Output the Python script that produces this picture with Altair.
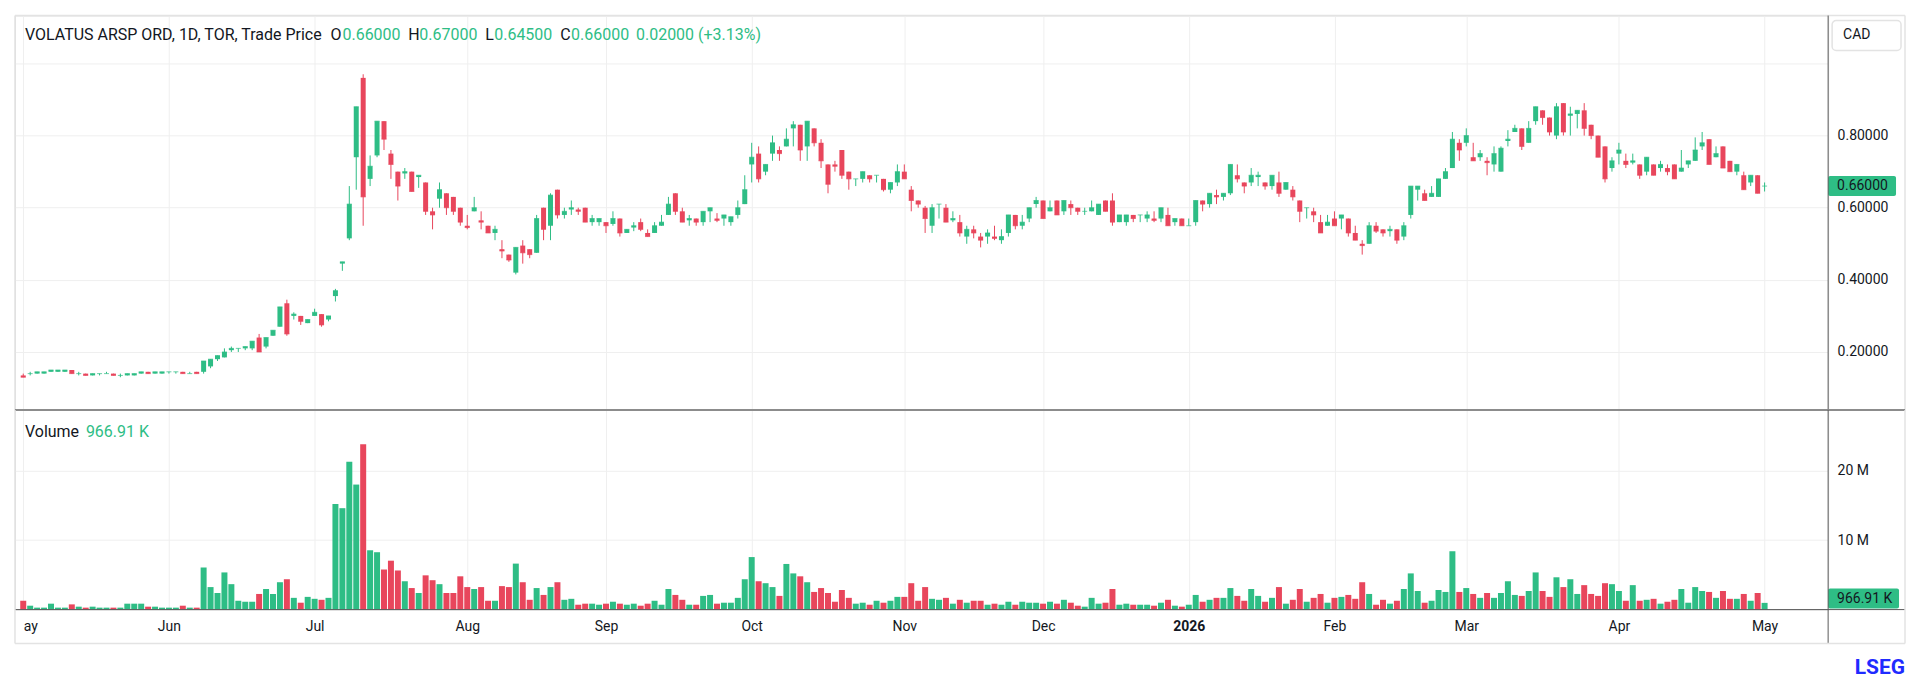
import altair as alt
import pandas as pd

# ---------------- data ----------------
opens = [0.135, 0.14, 0.14, 0.14, 0.145, 0.145, 0.145, 0.15, 0.14, 0.14,
         0.135, 0.14, 0.14, 0.14, 0.135, 0.135, 0.135, 0.14, 0.145, 0.14,
         0.14, 0.145, 0.145, 0.145, 0.14, 0.145, 0.145, 0.16, 0.18, 0.185,
         0.205, 0.21, 0.21, 0.21, 0.24, 0.215, 0.245, 0.27, 0.335, 0.30,
         0.30, 0.28, 0.30, 0.305, 0.29, 0.355, 0.445, 0.515, 0.74, 0.96,
         0.68, 0.745, 0.84, 0.75, 0.70, 0.695, 0.70, 0.685, 0.67, 0.59,
         0.625, 0.64, 0.63, 0.60, 0.55, 0.59, 0.565, 0.55, 0.53, 0.485,
         0.47, 0.42, 0.495, 0.485, 0.475, 0.60, 0.55, 0.65, 0.58, 0.595,
         0.595, 0.60, 0.56, 0.56, 0.56, 0.555, 0.57, 0.53, 0.545, 0.56,
         0.53, 0.53, 0.55, 0.58, 0.64, 0.59, 0.565, 0.57, 0.56, 0.59,
         0.57, 0.57, 0.56, 0.58, 0.61, 0.72, 0.75, 0.70, 0.75, 0.76,
         0.77, 0.82, 0.83, 0.77, 0.82, 0.78, 0.72, 0.72, 0.76, 0.70,
         0.68, 0.68, 0.69, 0.69, 0.68, 0.65, 0.67, 0.70, 0.65, 0.62,
         0.60, 0.55, 0.61, 0.60, 0.565, 0.56, 0.52, 0.54, 0.52, 0.52,
         0.52, 0.51, 0.53, 0.58, 0.55, 0.57, 0.61, 0.62, 0.59, 0.62,
         0.59, 0.61, 0.60, 0.59, 0.59, 0.58, 0.62, 0.62, 0.56, 0.56,
         0.58, 0.58, 0.57, 0.57, 0.57, 0.58, 0.56, 0.57, 0.55, 0.56,
         0.62, 0.61, 0.635, 0.63, 0.64, 0.69, 0.67, 0.67, 0.685, 0.67,
         0.66, 0.67, 0.65, 0.65, 0.62, 0.60, 0.59, 0.56, 0.55, 0.57,
         0.57, 0.57, 0.53, 0.50, 0.50, 0.55, 0.54, 0.535, 0.54, 0.52,
         0.58, 0.65, 0.64, 0.63, 0.63, 0.68, 0.71, 0.78, 0.78, 0.74,
         0.74, 0.73, 0.72, 0.70, 0.785, 0.81, 0.82, 0.78, 0.84, 0.87,
         0.85, 0.80, 0.89, 0.855, 0.86, 0.87, 0.83, 0.80, 0.77, 0.71,
         0.75, 0.73, 0.725, 0.72, 0.70, 0.72, 0.71, 0.71, 0.72, 0.70,
         0.72, 0.73, 0.77, 0.79, 0.74, 0.77, 0.73, 0.70, 0.69, 0.67,
         0.69, 0.66]
highs = [0.14, 0.145, 0.145, 0.145, 0.15, 0.15, 0.15, 0.15, 0.145, 0.14,
         0.14, 0.14, 0.145, 0.14, 0.14, 0.14, 0.14, 0.145, 0.145, 0.145,
         0.145, 0.145, 0.145, 0.145, 0.145, 0.145, 0.175, 0.18, 0.19, 0.21,
         0.215, 0.21, 0.215, 0.23, 0.25, 0.24, 0.26, 0.325, 0.345, 0.31,
         0.30, 0.29, 0.32, 0.305, 0.30, 0.375, 0.45, 0.66, 0.88, 0.97,
         0.745, 0.84, 0.84, 0.76, 0.70, 0.71, 0.70, 0.69, 0.67, 0.60,
         0.67, 0.64, 0.63, 0.60, 0.58, 0.63, 0.59, 0.55, 0.55, 0.51,
         0.47, 0.49, 0.51, 0.485, 0.58, 0.60, 0.64, 0.65, 0.60, 0.62,
         0.60, 0.60, 0.58, 0.57, 0.56, 0.59, 0.57, 0.54, 0.56, 0.57,
         0.54, 0.56, 0.58, 0.63, 0.64, 0.60, 0.58, 0.57, 0.59, 0.60,
         0.585, 0.58, 0.575, 0.62, 0.69, 0.78, 0.77, 0.72, 0.80, 0.77,
         0.82, 0.84, 0.83, 0.84, 0.82, 0.79, 0.72, 0.73, 0.76, 0.70,
         0.68, 0.70, 0.69, 0.69, 0.68, 0.67, 0.72, 0.72, 0.66, 0.62,
         0.605, 0.61, 0.61, 0.61, 0.59, 0.58, 0.55, 0.55, 0.53, 0.54,
         0.55, 0.54, 0.58, 0.58, 0.58, 0.60, 0.63, 0.62, 0.62, 0.62,
         0.62, 0.62, 0.60, 0.60, 0.62, 0.61, 0.62, 0.64, 0.58, 0.58,
         0.58, 0.58, 0.59, 0.59, 0.60, 0.60, 0.57, 0.57, 0.57, 0.62,
         0.62, 0.64, 0.65, 0.64, 0.72, 0.72, 0.67, 0.71, 0.70, 0.67,
         0.69, 0.70, 0.67, 0.66, 0.62, 0.60, 0.60, 0.58, 0.58, 0.59,
         0.58, 0.57, 0.55, 0.51, 0.56, 0.56, 0.54, 0.55, 0.54, 0.56,
         0.66, 0.66, 0.65, 0.66, 0.68, 0.71, 0.81, 0.79, 0.82, 0.78,
         0.76, 0.74, 0.77, 0.77, 0.815, 0.83, 0.82, 0.84, 0.88, 0.87,
         0.85, 0.89, 0.89, 0.88, 0.87, 0.89, 0.83, 0.80, 0.77, 0.74,
         0.78, 0.75, 0.75, 0.72, 0.74, 0.72, 0.73, 0.72, 0.72, 0.76,
         0.73, 0.795, 0.81, 0.79, 0.77, 0.77, 0.73, 0.72, 0.70, 0.69,
         0.69, 0.67]
lows = [0.13, 0.135, 0.14, 0.14, 0.145, 0.145, 0.145, 0.14, 0.135, 0.135,
        0.135, 0.135, 0.14, 0.135, 0.13, 0.135, 0.135, 0.14, 0.14, 0.14,
        0.14, 0.14, 0.14, 0.14, 0.14, 0.14, 0.14, 0.155, 0.175, 0.185,
        0.20, 0.20, 0.205, 0.205, 0.20, 0.21, 0.245, 0.27, 0.245, 0.29,
        0.275, 0.28, 0.30, 0.27, 0.285, 0.34, 0.425, 0.51, 0.65, 0.55,
        0.66, 0.74, 0.76, 0.68, 0.62, 0.68, 0.645, 0.655, 0.58, 0.54,
        0.60, 0.58, 0.58, 0.55, 0.54, 0.59, 0.54, 0.53, 0.51, 0.46,
        0.45, 0.415, 0.445, 0.46, 0.475, 0.51, 0.51, 0.57, 0.57, 0.58,
        0.58, 0.56, 0.55, 0.55, 0.53, 0.55, 0.52, 0.53, 0.535, 0.535,
        0.52, 0.53, 0.55, 0.58, 0.58, 0.56, 0.55, 0.55, 0.55, 0.56,
        0.56, 0.55, 0.55, 0.57, 0.61, 0.67, 0.67, 0.69, 0.73, 0.73,
        0.77, 0.77, 0.73, 0.73, 0.77, 0.71, 0.64, 0.70, 0.68, 0.65,
        0.66, 0.67, 0.67, 0.67, 0.645, 0.64, 0.66, 0.68, 0.59, 0.60,
        0.53, 0.53, 0.57, 0.56, 0.56, 0.52, 0.50, 0.515, 0.49, 0.50,
        0.51, 0.50, 0.52, 0.54, 0.54, 0.56, 0.60, 0.57, 0.59, 0.58,
        0.58, 0.58, 0.58, 0.58, 0.59, 0.58, 0.59, 0.55, 0.56, 0.55,
        0.56, 0.56, 0.56, 0.56, 0.56, 0.55, 0.55, 0.55, 0.55, 0.55,
        0.59, 0.60, 0.61, 0.62, 0.635, 0.67, 0.64, 0.66, 0.66, 0.65,
        0.65, 0.63, 0.65, 0.62, 0.56, 0.57, 0.56, 0.53, 0.55, 0.55,
        0.54, 0.52, 0.51, 0.47, 0.50, 0.53, 0.52, 0.52, 0.50, 0.51,
        0.57, 0.62, 0.62, 0.63, 0.63, 0.68, 0.71, 0.73, 0.77, 0.73,
        0.73, 0.69, 0.70, 0.70, 0.77, 0.81, 0.76, 0.78, 0.83, 0.83,
        0.80, 0.79, 0.80, 0.80, 0.82, 0.80, 0.79, 0.74, 0.67, 0.70,
        0.72, 0.71, 0.72, 0.68, 0.69, 0.69, 0.70, 0.69, 0.68, 0.70,
        0.71, 0.73, 0.76, 0.72, 0.74, 0.71, 0.70, 0.69, 0.65, 0.66,
        0.64, 0.645]
closes = [0.13, 0.14, 0.145, 0.145, 0.15, 0.15, 0.15, 0.14, 0.14, 0.135,
          0.14, 0.14, 0.14, 0.135, 0.135, 0.14, 0.14, 0.145, 0.14, 0.145,
          0.145, 0.145, 0.145, 0.14, 0.14, 0.14, 0.175, 0.18, 0.19, 0.20,
          0.21, 0.21, 0.215, 0.23, 0.20, 0.24, 0.26, 0.325, 0.25, 0.305,
          0.285, 0.29, 0.31, 0.275, 0.30, 0.37, 0.45, 0.61, 0.88, 0.63,
          0.715, 0.84, 0.79, 0.72, 0.66, 0.70, 0.645, 0.69, 0.59, 0.58,
          0.65, 0.60, 0.59, 0.56, 0.545, 0.60, 0.56, 0.53, 0.54, 0.48,
          0.455, 0.49, 0.475, 0.47, 0.57, 0.54, 0.635, 0.58, 0.59, 0.60,
          0.59, 0.56, 0.57, 0.57, 0.55, 0.57, 0.53, 0.54, 0.55, 0.54,
          0.52, 0.55, 0.56, 0.61, 0.59, 0.56, 0.57, 0.56, 0.59, 0.60,
          0.565, 0.58, 0.575, 0.60, 0.65, 0.74, 0.68, 0.72, 0.78, 0.75,
          0.79, 0.83, 0.76, 0.84, 0.78, 0.73, 0.665, 0.715, 0.69, 0.68,
          0.68, 0.70, 0.68, 0.69, 0.65, 0.67, 0.70, 0.68, 0.62, 0.61,
          0.57, 0.60, 0.61, 0.56, 0.57, 0.53, 0.54, 0.53, 0.51, 0.53,
          0.515, 0.52, 0.58, 0.55, 0.56, 0.60, 0.62, 0.57, 0.60, 0.58,
          0.62, 0.60, 0.59, 0.59, 0.60, 0.61, 0.59, 0.56, 0.58, 0.58,
          0.57, 0.58, 0.58, 0.565, 0.60, 0.55, 0.57, 0.55, 0.55, 0.62,
          0.61, 0.64, 0.63, 0.64, 0.72, 0.68, 0.66, 0.69, 0.69, 0.66,
          0.69, 0.64, 0.67, 0.63, 0.59, 0.60, 0.58, 0.53, 0.56, 0.55,
          0.58, 0.53, 0.51, 0.495, 0.55, 0.535, 0.53, 0.54, 0.51, 0.55,
          0.66, 0.66, 0.62, 0.64, 0.68, 0.70, 0.79, 0.76, 0.80, 0.73,
          0.75, 0.725, 0.75, 0.765, 0.79, 0.82, 0.77, 0.82, 0.88, 0.85,
          0.81, 0.88, 0.81, 0.86, 0.87, 0.82, 0.80, 0.74, 0.68, 0.73,
          0.76, 0.72, 0.73, 0.69, 0.74, 0.69, 0.72, 0.70, 0.68, 0.71,
          0.73, 0.76, 0.78, 0.72, 0.75, 0.71, 0.70, 0.72, 0.65, 0.69,
          0.64, 0.66]
volumes_m = [1.27, 0.56, 0.28, 0.28, 0.85, 0.28, 0.28, 0.75, 0.42, 0.28,
             0.42, 0.28, 0.28, 0.28, 0.28, 0.85, 0.85, 0.85, 0.42, 0.42,
             0.28, 0.28, 0.28, 0.56, 0.28, 0.28, 6.06, 3.24, 2.39, 5.35,
             3.66, 1.27, 1.13, 1.13, 2.25, 2.96, 2.25, 3.94, 4.37, 1.69,
             0.99, 1.83, 1.55, 1.41, 1.69, 15.2, 14.6, 21.3, 18.0, 23.8,
             8.54, 8.26, 5.77, 7.04, 5.63, 4.08, 3.10, 2.39, 4.93, 4.23,
             3.66, 2.39, 2.39, 4.79, 3.24, 2.96, 3.24, 1.27, 1.27, 3.38,
             3.24, 6.62, 3.94, 1.41, 3.10, 2.11, 3.24, 3.94, 1.41, 1.55,
             0.70, 0.85, 0.85, 0.70, 0.85, 1.13, 0.85, 0.70, 0.85, 0.56,
             0.85, 1.27, 0.70, 2.96, 2.11, 1.41, 0.70, 0.70, 1.97, 2.11,
             0.85, 0.99, 0.99, 1.69, 4.37, 7.56, 4.08, 3.80, 3.24, 1.97,
             6.57, 5.21, 4.79, 3.94, 2.54, 3.10, 2.39, 1.13, 2.82, 1.69,
             0.85, 0.99, 0.70, 1.27, 0.99, 1.27, 1.83, 1.83, 3.80, 1.27,
             3.24, 1.55, 1.41, 1.69, 0.85, 1.41, 0.99, 1.27, 1.27, 0.70,
             0.85, 0.70, 1.13, 0.70, 1.13, 0.99, 0.99, 0.85, 1.13, 0.85,
             1.41, 0.99, 0.56, 0.42, 1.69, 0.85, 0.99, 2.96, 0.70, 0.85,
             0.70, 0.70, 0.70, 0.56, 0.99, 1.41, 0.56, 0.42, 0.70, 2.11,
             1.13, 1.41, 1.69, 1.69, 3.10, 1.97, 1.27, 2.96, 1.97, 1.13,
             1.69, 3.24, 0.85, 1.41, 2.96, 1.13, 1.69, 2.25, 0.99, 1.69,
             1.83, 2.11, 1.55, 3.94, 2.25, 0.70, 1.41, 0.85, 1.27, 2.96,
             5.21, 2.68, 0.99, 1.27, 2.82, 2.54, 8.40, 2.54, 3.10, 2.25,
             1.69, 2.39, 1.69, 2.39, 4.08, 2.11, 1.97, 2.68, 5.35, 2.68,
             1.83, 4.65, 3.24, 4.37, 2.25, 3.52, 2.25, 1.97, 3.80, 3.66,
             2.68, 1.27, 3.52, 1.27, 1.41, 1.55, 0.85, 1.13, 1.41, 2.96,
             0.99, 3.24, 2.68, 2.54, 1.69, 2.68, 1.55, 1.55, 2.25, 1.27,
             2.39, 0.96691]

# time-axis labels: first trading day of each month (trading-day index)
month_labels = ["ay", "Jun", "Jul", "Aug", "Sep", "Oct", "Nov", "Dec",
                "2026", "Feb", "Mar", "Apr", "May"]
month_starts = [0, 21, 42, 64, 84, 105, 127, 147, 168, 189, 208, 230, 251]
price_ticks = [0.2, 0.4, 0.6, 0.8, 1.0]
volume_ticks = [10, 20]

# ---------------- styling ----------------
GREEN = "#2EBD85"
RED = "#E8465C"
TEXT = "#131722"
GRID = "#EFEFEF"
BORDER = "#E3E3E3"
AXLINE = "#5A5A5A"
FONT = "Roboto"

W = 1816
PH = 395
VH = 200
RB = 1893  # right border (px, panel coordinates)

XDOM = [-0.47, 259.44]
PDOM = [0.0394, 1.1329]
VDOM = [0, 28.75]

n = len(closes)
df = pd.DataFrame({"i": list(range(n)), "open": opens, "high": highs,
                   "low": lows, "close": closes, "volume": volumes_m})
df["dir"] = ["up" if c >= o else "down" for o, c in zip(opens, closes)]

color = alt.Color("dir:N", scale=alt.Scale(domain=["up", "down"], range=[GREEN, RED]),
                  legend=None)
xscale = alt.Scale(domain=XDOM, nice=False, zero=False)

label_expr = ("[" + ",".join("'%s'" % m for m in month_labels) + "][indexof(["
              + ",".join(str(v) for v in month_starts) + "], datum.value)]")

one = pd.DataFrame({"k": [0]})


def txt(x, y, s, col=TEXT, size=16, weight="normal", align="left"):
    return alt.Chart(one).mark_text(align=align, baseline="middle", font=FONT,
                                    fontSize=size, fontWeight=weight, color=col).encode(
        x=alt.value(x), y=alt.value(y), text=alt.value(s))


def hrule(x1, x2, y, col, w=1):
    return alt.Chart(one).mark_rule(color=col, strokeWidth=w).encode(
        x=alt.value(x1), x2=alt.value(x2), y=alt.value(y))


def vrule(x, y1, y2, col, w=1):
    return alt.Chart(one).mark_rule(color=col, strokeWidth=w).encode(
        x=alt.value(x), y=alt.value(y1), y2=alt.value(y2))


# ---------------- price pane ----------------
px_axis = alt.Axis(values=month_starts, labels=False, ticks=False, domain=False,
                   grid=True, gridColor=GRID, title=None)
py_axis = alt.Axis(orient="right", values=price_ticks,
                   labelExpr="datum.value > 0.9 ? '' : format(datum.value, '.5f')",
                   ticks=False, tickSize=0, domain=False, grid=True, gridColor=GRID,
                   labelPadding=9, labelFontSize=14, labelColor=TEXT, labelFont=FONT,
                   title=None)
pscale = alt.Scale(domain=PDOM, nice=False, zero=False)

wicks = alt.Chart(df).mark_rule(strokeWidth=1).encode(
    x=alt.X("i:Q", scale=xscale, axis=px_axis),
    y=alt.Y("low:Q", scale=pscale, axis=py_axis),
    y2="high:Q", color=color)
bodies = alt.Chart(df).mark_bar(size=5).encode(
    x="i:Q", y="open:Q", y2="close:Q", color=color)
dojis = alt.Chart(df).mark_tick(orient="horizontal", size=5, thickness=1).encode(
    x="i:Q", y="close:Q", color=color)

last = pd.DataFrame({"close": [closes[-1]], "label": ["%.5f" % closes[-1]]})
last_box = alt.Chart(last).mark_rect(color=GREEN, cornerRadius=2, yOffset=-10,
                                     y2Offset=10).encode(
    x=alt.value(W), x2=alt.value(W + 68), y="close:Q", y2="close:Q")
last_txt = alt.Chart(last).mark_text(align="left", baseline="middle", font=FONT,
                                     fontSize=14, color=TEXT).encode(
    x=alt.value(W + 9), y="close:Q", text="label:N")

chg = closes[-1] - closes[-2]
pct = chg / closes[-2] * 100
hdr_y = 20
header = [
    txt(10, hdr_y, "VOLATUS ARSP ORD, 1D, TOR, Trade Price"),
    txt(316, hdr_y, "O"), txt(328, hdr_y, "%.5f" % opens[-1], GREEN),
    txt(394, hdr_y, "H"), txt(405, hdr_y, "%.5f" % highs[-1], GREEN),
    txt(471, hdr_y, "L"), txt(480, hdr_y, "%.5f" % lows[-1], GREEN),
    txt(546, hdr_y, "C"), txt(557, hdr_y, "%.5f" % closes[-1], GREEN),
    txt(622, hdr_y, "%.5f (%+.2f%%)" % (chg, pct), GREEN),
]
cad_box = alt.Chart(one).mark_rect(fill="white", stroke=BORDER, strokeWidth=1.5,
                                   cornerRadius=4).encode(
    x=alt.value(1820), x2=alt.value(1889), y=alt.value(5), y2=alt.value(35))
cad_txt = txt(1831, 20, "CAD", size=14)

price_borders = [
    hrule(0, RB, 0, BORDER, 1.5),
    vrule(0, 0, PH, BORDER, 1.5),
    vrule(RB, 0, PH, BORDER, 1.5),
    vrule(W, 0, PH, AXLINE, 1),
]

price = alt.layer(wicks, bodies, dojis, last_box, last_txt, *header, cad_box, cad_txt,
                  *price_borders).properties(width=W, height=PH)

# ---------------- volume pane ----------------
vx_axis = alt.Axis(values=month_starts, labelExpr=label_expr, ticks=False, tickSize=0,
                   domain=False, grid=True, gridColor=GRID, labelPadding=10,
                   labelFontSize=14, labelColor=TEXT, labelFont=FONT, labelFlush=False,
                   labelOverlap=False, title=None,
                   labelFontWeight={"expr": "datum.value == 168 ? 'bold' : 'normal'"},
                   labelAlign={"expr": "datum.value == 0 ? 'left' : 'center'"})
vy_axis = alt.Axis(orient="right", values=volume_ticks, labelExpr="datum.value + ' M'",
                   ticks=False, tickSize=0, domain=False, grid=True, gridColor=GRID,
                   labelPadding=9, labelFontSize=14, labelColor=TEXT, labelFont=FONT,
                   title=None)

vbars = alt.Chart(df).mark_bar(size=6).encode(
    x=alt.X("i:Q", scale=xscale, axis=vx_axis),
    y=alt.Y("volume:Q", scale=alt.Scale(domain=VDOM, nice=False), axis=vy_axis),
    color=color)

vol_label = "%.2f K" % (volumes_m[-1] * 1000)
vol_header = [txt(10, 22, "Volume"), txt(71, 22, vol_label, GREEN)]
vol_box = alt.Chart(one).mark_rect(color=GREEN, cornerRadius=2).encode(
    x=alt.value(W), x2=alt.value(W + 71), y=alt.value(179), y2=alt.value(199))
vol_txt = txt(W + 9, 189, vol_label, size=14)

vol_lines = [
    hrule(0, RB, 0, "#8C8C8C", 2),
    hrule(0, RB, VH, AXLINE, 1),
    vrule(W, 0, VH + 34, AXLINE, 1),
    vrule(0, 0, VH + 34, BORDER, 1.5),
    vrule(RB, 0, VH + 34, BORDER, 1.5),
    hrule(0, RB, VH + 34, BORDER, 1.5),
]
lseg = txt(RB, 259, "LSEG", col="#1F2BFF", size=21, weight="bold", align="right")

volume = alt.layer(vbars, *vol_header, vol_box, vol_txt, *vol_lines, lseg).properties(
    width=W, height=VH)

chart = alt.vconcat(price, volume, spacing=0, bounds="flush").configure_view(
    stroke=None).configure(font=FONT, background="white")

chart.save("out.html", embed_options={"renderer": "svg", "actions": False})
